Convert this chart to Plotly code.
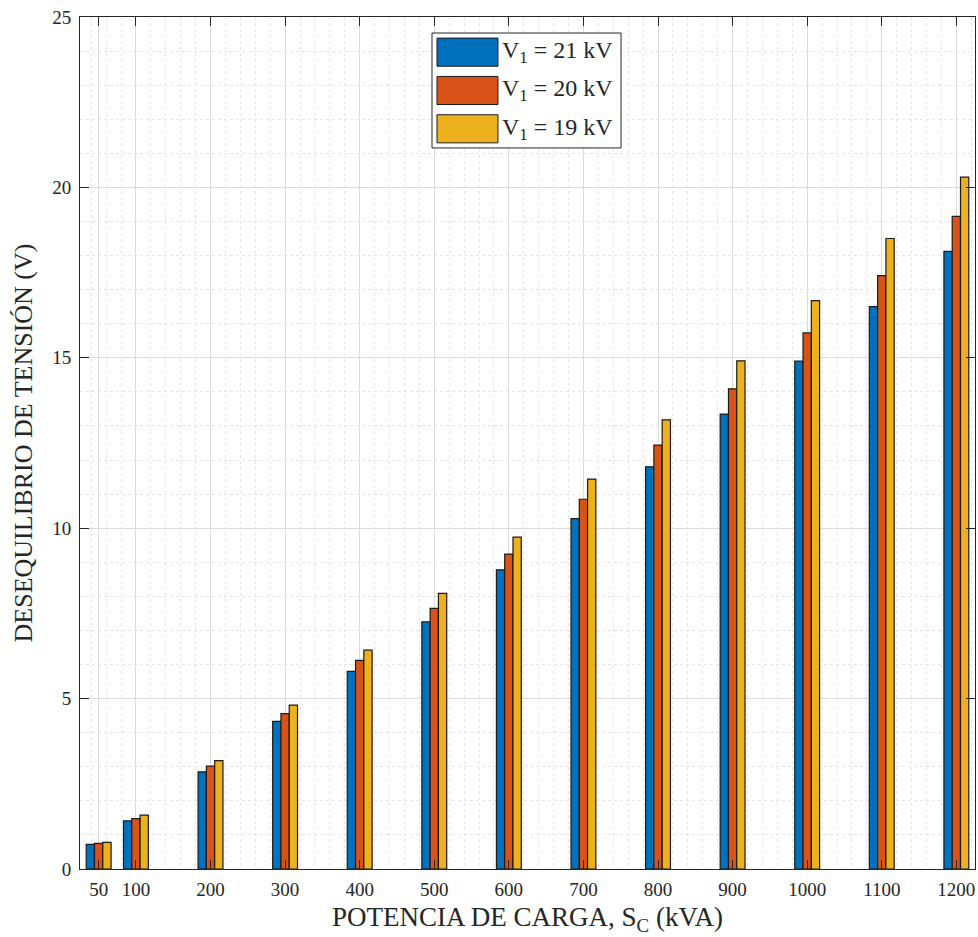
import plotly.graph_objects as go

# Load power (kVA) and voltage unbalance (V) for three supply voltages
carga_kva = [50, 100, 200, 300, 400, 500, 600, 700, 800, 900, 1000, 1100, 1200]
v21 = [0.72, 1.41, 2.85, 4.33, 5.80, 7.25, 8.78, 10.28, 11.80, 13.35, 14.90, 16.50, 18.12]
v20 = [0.75, 1.48, 3.02, 4.56, 6.12, 7.65, 9.24, 10.85, 12.44, 14.09, 15.73, 17.41, 19.15]
v19 = [0.78, 1.58, 3.18, 4.81, 6.42, 8.09, 9.74, 11.44, 13.18, 14.91, 16.68, 18.50, 20.30]

series_names = ["V<sub>1</sub> = 21 kV", "V<sub>1</sub> = 20 kV", "V<sub>1</sub> = 19 kV"]
series_values = [v21, v20, v19]
colors = ["#0072BD", "#D95319", "#EDB120"]

x_ticks = [50, 100, 200, 300, 400, 500, 600, 700, 800, 900, 1000, 1100, 1200]
y_ticks = [0, 5, 10, 15, 20, 25]

FONT = "Liberation Serif"
TXT = "#262626"

fig = go.Figure()
for name, vals, col in zip(series_names, series_values, colors):
    fig.add_trace(go.Bar(
        x=carga_kva, y=vals, name=name,
        marker=dict(color=col, line=dict(color="#1a1a1a", width=1.2)),
        showlegend=False,
    ))

axis_common = dict(
    showline=True, linecolor=TXT, linewidth=1, mirror="allticks",
    ticks="inside", ticklen=9, tickcolor=TXT, tickwidth=1,
    showgrid=True, gridcolor="#dcdcdc", gridwidth=1,
    zeroline=False,
    tickfont=dict(family=FONT, size=19, color=TXT),
)

fig.update_xaxes(
    **axis_common,
    range=[25, 1225],
    tickmode="array", tickvals=x_ticks, ticktext=[str(v) for v in x_ticks],
    ticklabelstandoff=3,
    minor=dict(dtick=20, tick0=0, showgrid=True, gridcolor="#e6e6e6",
               griddash="dot", gridwidth=1, ticks=""),
    title=dict(text="POTENCIA DE CARGA, S<sub>C</sub> (kVA)",
               font=dict(family=FONT, size=27, color=TXT), standoff=8),
)
fig.update_yaxes(
    **axis_common,
    range=[0, 25],
    tickmode="array", tickvals=y_ticks, ticktext=[str(v) for v in y_ticks],
    ticklabelstandoff=4,
    minor=dict(dtick=1, tick0=0, showgrid=True, gridcolor="#e6e6e6",
               griddash="dot", gridwidth=1, ticks=""),
    title=dict(text="DESEQUILIBRIO DE TENSIÓN (V)",
               font=dict(family=FONT, size=26, color=TXT), standoff=12),
)

# Legend drawn as a framed box with large colour swatches
box_x0, box_x1 = 0.3933, 0.6045
box_top, box_bot = 0.9812, 0.8463
fig.add_shape(type="rect", xref="paper", yref="paper",
              x0=box_x0, x1=box_x1, y0=box_bot, y1=box_top,
              line=dict(color=TXT, width=1), fillcolor="white", layer="above")
row_h = (box_top - box_bot) / 3
sw_x0, sw_x1 = 0.3989, 0.4670
for i, (name, col) in enumerate(zip(series_names, colors)):
    yc = box_top - row_h * (i + 0.5)
    fig.add_shape(type="rect", xref="paper", yref="paper",
                  x0=sw_x0, x1=sw_x1, y0=yc - 0.0165, y1=yc + 0.0165,
                  line=dict(color="#1a1a1a", width=1), fillcolor=col, layer="above")
    fig.add_annotation(xref="paper", yref="paper", x=sw_x1 + 0.002, y=yc,
                       xanchor="left", yanchor="middle", showarrow=False,
                       text=name, font=dict(family=FONT, size=24, color=TXT))

fig.update_layout(
    width=978, height=937,
    margin=dict(l=80, r=3, t=17, b=68),
    paper_bgcolor="white", plot_bgcolor="white",
    barmode="group", bargap=0.333, bargroupgap=0.0,
    font=dict(family=FONT, color=TXT),
)

fig.write_html("out.html")
